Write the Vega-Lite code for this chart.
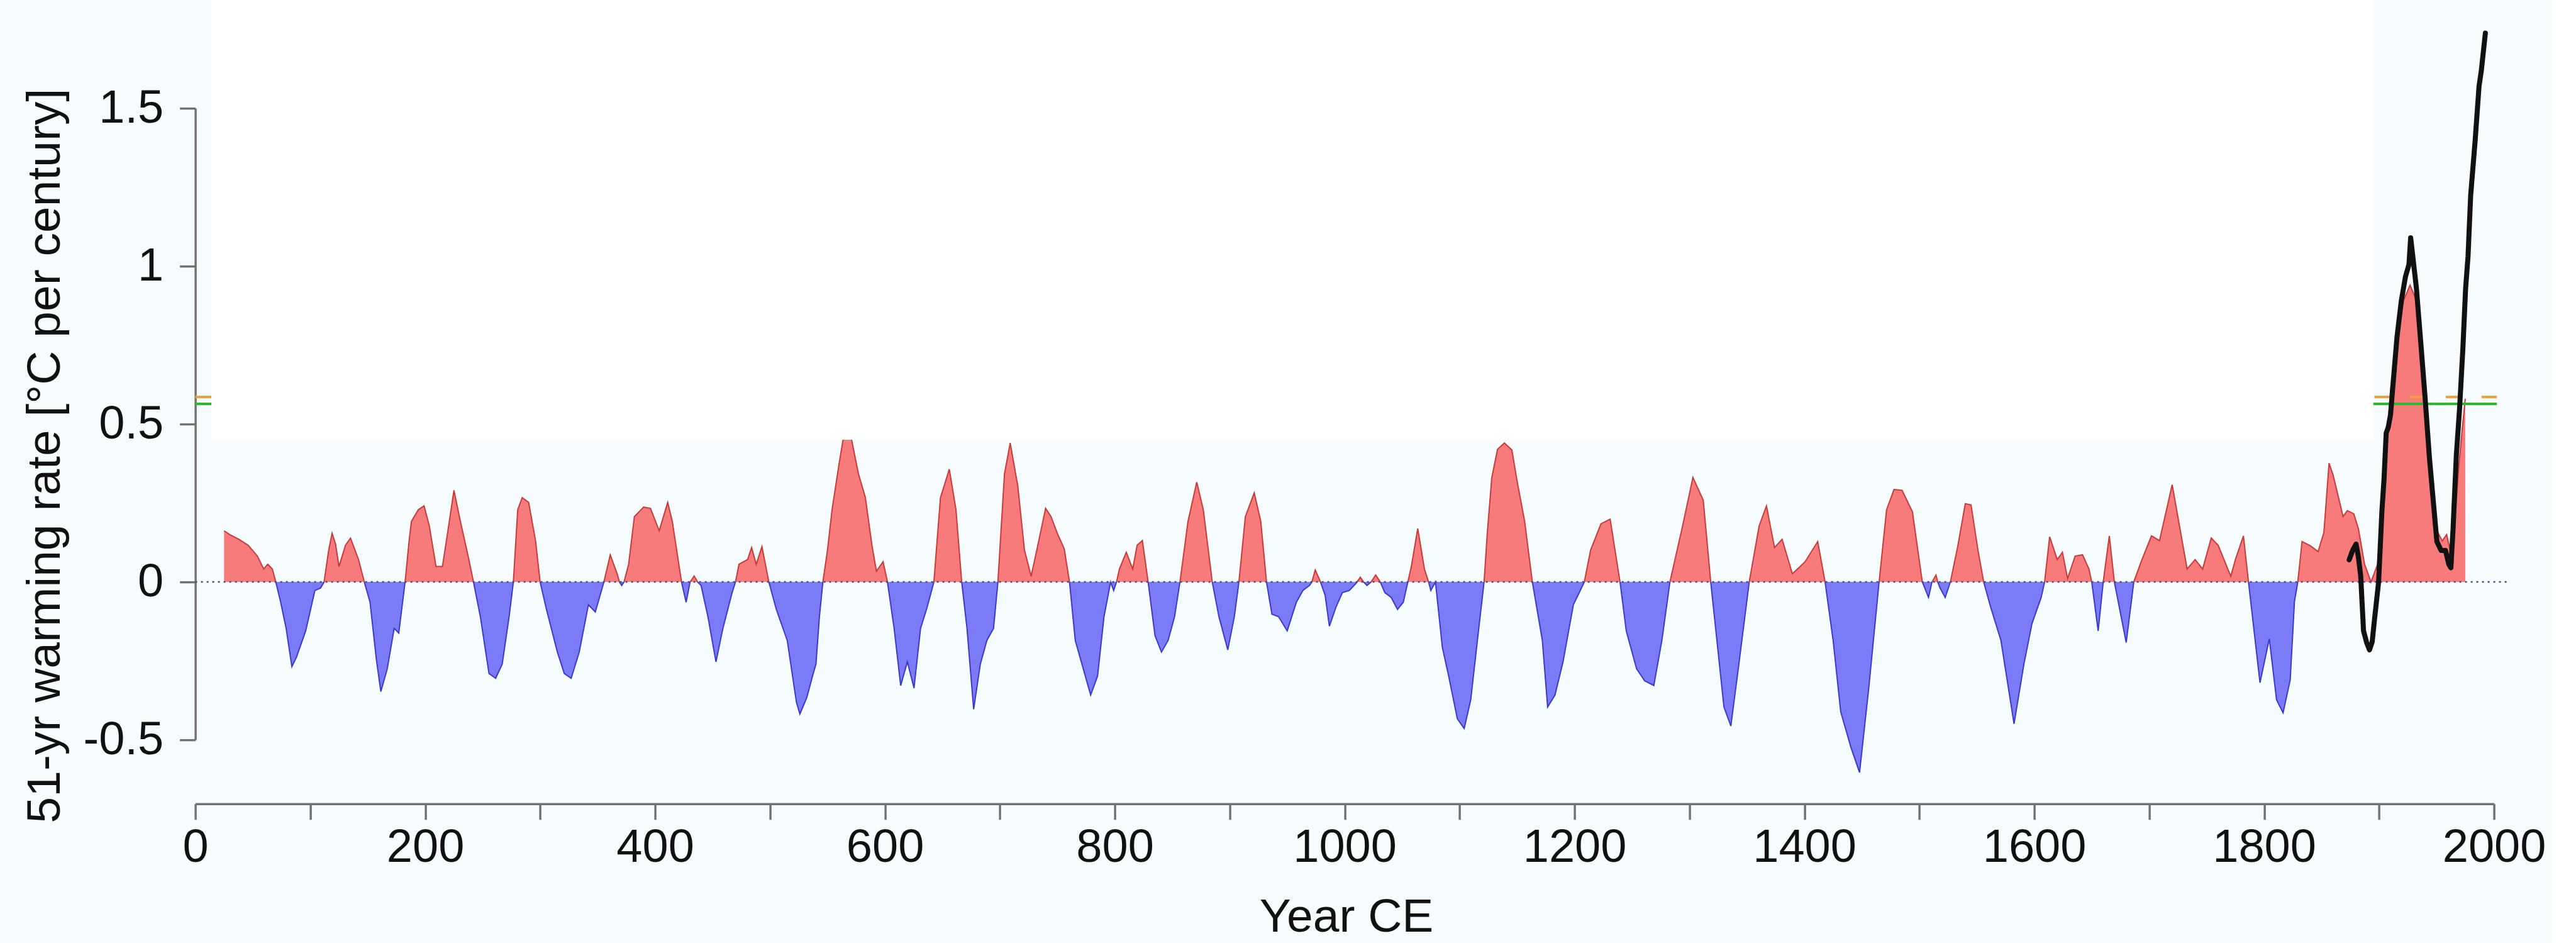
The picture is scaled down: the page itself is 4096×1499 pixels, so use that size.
{
 "$schema": "https://vega.github.io/schema/vega-lite/v6.json",
 "width": 3655, "height": 1004,
 "autosize": {"type": "none"},
 "padding": {"left": 310.6, "top": 172.1, "right": 130.4, "bottom": 322.9},
 "background": "#f6fbfd",
 "config": {"view": {"stroke": null}, "font": "Liberation Sans"},
 "datasets": {
  "rate": [
   {"yr":25,"v":0.162},{"yr":30,"v":0.15},{"yr":38,"v":0.135},{"yr":46,"v":0.116},{"yr":54,"v":0.082},{"yr":59.5,"v":0.041},{"yr":63,"v":0.056},{"yr":67,"v":0.041},{"yr":70,"v":0},
   {"yr":74,"v":-0.06},{"yr":79,"v":-0.147},{"yr":84,"v":-0.268},{"yr":88,"v":-0.238},{"yr":96,"v":-0.155},{"yr":104,"v":-0.027},{"yr":109,"v":-0.019},{"yr":112,"v":0},
   {"yr":116,"v":0.1},{"yr":119,"v":0.154},{"yr":122,"v":0.12},{"yr":125,"v":0.049},{"yr":130.6,"v":0.116},{"yr":135,"v":0.139},{"yr":142,"v":0.071},{"yr":147,"v":0},
   {"yr":152,"v":-0.064},{"yr":157.5,"v":-0.245},{"yr":161.4,"v":-0.347},{"yr":167,"v":-0.275},{"yr":173,"v":-0.147},{"yr":177,"v":-0.162},{"yr":182.5,"v":0},
   {"yr":186,"v":0.13},{"yr":188,"v":0.192},{"yr":194,"v":0.229},{"yr":199,"v":0.241},{"yr":203.6,"v":0.177},{"yr":209.4,"v":0.049},{"yr":215,"v":0.049},{"yr":218,"v":0.12},{"yr":221,"v":0.192},{"yr":225,"v":0.29},{"yr":230.6,"v":0.192},{"yr":238,"v":0.071},{"yr":242,"v":0},
   {"yr":248,"v":-0.11},{"yr":255.5,"v":-0.29},{"yr":261.3,"v":-0.305},{"yr":267,"v":-0.26},{"yr":273,"v":-0.11},{"yr":276.7,"v":0},
   {"yr":280.5,"v":0.229},{"yr":284.4,"v":0.267},{"yr":290,"v":0.252},{"yr":296,"v":0.131},{"yr":300,"v":0},
   {"yr":305.5,"v":-0.087},{"yr":315,"v":-0.222},{"yr":321,"v":-0.29},{"yr":327,"v":-0.305},{"yr":334,"v":-0.222},{"yr":342,"v":-0.072},{"yr":348,"v":-0.095},{"yr":355.5,"v":0},
   {"yr":361,"v":0.086},{"yr":367,"v":0.026},{"yr":369,"v":0},{"yr":371,"v":-0.011},{"yr":373,"v":0},{"yr":377,"v":0.056},{"yr":382,"v":0.207},{"yr":390,"v":0.237},{"yr":396,"v":0.233},{"yr":403.6,"v":0.162},{"yr":411,"v":0.252},{"yr":415,"v":0.192},{"yr":423,"v":0},
   {"yr":427,"v":-0.064},{"yr":430.5,"v":0},{"yr":434,"v":0.019},{"yr":437,"v":0},{"yr":440,"v":-0.011},{"yr":446,"v":-0.11},{"yr":453,"v":-0.253},{"yr":459,"v":-0.147},{"yr":467,"v":-0.034},{"yr":470,"v":0},
   {"yr":473,"v":0.056},{"yr":480.5,"v":0.071},{"yr":484,"v":0.109},{"yr":488,"v":0.056},{"yr":493,"v":0.112},{"yr":499,"v":0},
   {"yr":505.5,"v":-0.087},{"yr":515,"v":-0.185},{"yr":523,"v":-0.381},{"yr":526,"v":-0.418},{"yr":532,"v":-0.366},{"yr":537,"v":-0.298},{"yr":540,"v":-0.26},{"yr":543,"v":-0.11},{"yr":546,"v":0},
   {"yr":550,"v":0.1},{"yr":554,"v":0.229},{"yr":560,"v":0.372},{"yr":564,"v":0.46},{"yr":568,"v":0.48},{"yr":571,"v":0.45},{"yr":577,"v":0.342},{"yr":583,"v":0.267},{"yr":588.7,"v":0.116},{"yr":592.6,"v":0.034},{"yr":598.4,"v":0.064},{"yr":602.2,"v":0},
   {"yr":608,"v":-0.147},{"yr":613.7,"v":-0.328},{"yr":619.5,"v":-0.253},{"yr":625.3,"v":-0.336},{"yr":631,"v":-0.147},{"yr":636.8,"v":-0.079},{"yr":642.6,"v":0},
   {"yr":648.3,"v":0.267},{"yr":656,"v":0.357},{"yr":661.8,"v":0.229},{"yr":666.8,"v":0},
   {"yr":671.4,"v":-0.147},{"yr":677.2,"v":-0.403},{"yr":683,"v":-0.26},{"yr":688.7,"v":-0.185},{"yr":694.5,"v":-0.147},{"yr":698.3,"v":0},
   {"yr":704,"v":0.342},{"yr":709,"v":0.44},{"yr":715.6,"v":0.304},{"yr":721.4,"v":0.101},{"yr":727.2,"v":0.018},{"yr":733,"v":0.116},{"yr":739.8,"v":0.233},{"yr":744.5,"v":0.207},{"yr":750,"v":0.154},{"yr":756,"v":0.105},{"yr":760.6,"v":0},
   {"yr":765.6,"v":-0.185},{"yr":771.4,"v":-0.26},{"yr":779,"v":-0.358},{"yr":785,"v":-0.298},{"yr":790.6,"v":-0.11},{"yr":796.4,"v":0},{"yr":799,"v":-0.027},{"yr":801.5,"v":0},
   {"yr":804,"v":0.041},{"yr":810,"v":0.094},{"yr":815.6,"v":0.041},{"yr":819.4,"v":0.116},{"yr":824,"v":0.131},{"yr":829,"v":0},
   {"yr":835,"v":-0.17},{"yr":840.6,"v":-0.222},{"yr":846.4,"v":-0.185},{"yr":852,"v":-0.11},{"yr":856.7,"v":0},
   {"yr":863.7,"v":0.192},{"yr":871.3,"v":0.316},{"yr":877,"v":0.229},{"yr":884.8,"v":0},
   {"yr":890.6,"v":-0.11},{"yr":898.3,"v":-0.215},{"yr":904,"v":-0.11},{"yr":908,"v":0},
   {"yr":913.6,"v":0.207},{"yr":921.3,"v":0.282},{"yr":927,"v":0.192},{"yr":932,"v":0},
   {"yr":936.7,"v":-0.102},{"yr":942.5,"v":-0.11},{"yr":950,"v":-0.155},{"yr":958,"v":-0.064},{"yr":963.6,"v":-0.027},{"yr":969.4,"v":-0.011},{"yr":971.5,"v":0},{"yr":974.4,"v":0.038},{"yr":979,"v":0},
   {"yr":983,"v":-0.042},{"yr":986.7,"v":-0.14},{"yr":992.5,"v":-0.079},{"yr":998,"v":-0.034},{"yr":1004,"v":-0.027},{"yr":1010,"v":-0.004},{"yr":1013.6,"v":0.015},{"yr":1016.5,"v":0},{"yr":1019.4,"v":-0.011},{"yr":1023,"v":0},{"yr":1027,"v":0.022},{"yr":1031,"v":0},
   {"yr":1035,"v":-0.034},{"yr":1040.5,"v":-0.049},{"yr":1046,"v":-0.087},{"yr":1051,"v":-0.064},{"yr":1055,"v":0},
   {"yr":1058,"v":0.049},{"yr":1063.6,"v":0.169},{"yr":1069.4,"v":0.041},{"yr":1073,"v":0},{"yr":1075,"v":-0.027},{"yr":1079,"v":0},
   {"yr":1085,"v":-0.207},{"yr":1090.5,"v":-0.298},{"yr":1098,"v":-0.433},{"yr":1104,"v":-0.464},{"yr":1109.7,"v":-0.373},{"yr":1115.5,"v":-0.185},{"yr":1121.3,"v":0},
   {"yr":1124,"v":0.15},{"yr":1128,"v":0.33},{"yr":1133,"v":0.42},{"yr":1139,"v":0.44},{"yr":1145.5,"v":0.418},{"yr":1150,"v":0.32},{"yr":1156.6,"v":0.192},{"yr":1163.3,"v":0},
   {"yr":1172,"v":-0.185},{"yr":1176.6,"v":-0.396},{"yr":1183,"v":-0.358},{"yr":1190,"v":-0.253},{"yr":1199,"v":-0.072},{"yr":1205,"v":-0.027},{"yr":1208.5,"v":0},
   {"yr":1214,"v":0.101},{"yr":1223,"v":0.184},{"yr":1231,"v":0.199},{"yr":1236.5,"v":0.071},{"yr":1239.6,"v":0},
   {"yr":1245,"v":-0.155},{"yr":1254,"v":-0.275},{"yr":1261,"v":-0.313},{"yr":1269,"v":-0.328},{"yr":1276,"v":-0.185},{"yr":1283,"v":0},
   {"yr":1294,"v":0.177},{"yr":1303,"v":0.331},{"yr":1312,"v":0.259},{"yr":1318.5,"v":0},
   {"yr":1330,"v":-0.396},{"yr":1336,"v":-0.456},{"yr":1343,"v":-0.26},{"yr":1352,"v":0},
   {"yr":1360.6,"v":0.177},{"yr":1367,"v":0.241},{"yr":1374,"v":0.109},{"yr":1380.6,"v":0.135},{"yr":1389.5,"v":0.026},{"yr":1394,"v":0.041},{"yr":1400.6,"v":0.064},{"yr":1411.6,"v":0.128},{"yr":1418,"v":0},
   {"yr":1425,"v":-0.185},{"yr":1431.6,"v":-0.411},{"yr":1440.5,"v":-0.524},{"yr":1448,"v":-0.603},{"yr":1456,"v":-0.336},{"yr":1465,"v":0},
   {"yr":1471.5,"v":0.229},{"yr":1478,"v":0.293},{"yr":1485,"v":0.29},{"yr":1494,"v":0.222},{"yr":1502.6,"v":0},
   {"yr":1508,"v":-0.049},{"yr":1511,"v":0},{"yr":1514.5,"v":0.022},{"yr":1516,"v":0},{"yr":1518,"v":-0.019},{"yr":1522.5,"v":-0.049},{"yr":1527,"v":0},
   {"yr":1533.6,"v":0.116},{"yr":1540,"v":0.248},{"yr":1545,"v":0.244},{"yr":1551,"v":0.101},{"yr":1556,"v":0},
   {"yr":1562,"v":-0.079},{"yr":1571,"v":-0.185},{"yr":1582.4,"v":-0.449},{"yr":1591,"v":-0.26},{"yr":1598,"v":-0.132},{"yr":1606,"v":-0.049},{"yr":1609,"v":0},
   {"yr":1613.4,"v":0.143},{"yr":1620,"v":0.071},{"yr":1624.5,"v":0.094},{"yr":1629,"v":0.011},{"yr":1635.6,"v":0.082},{"yr":1642,"v":0.086},{"yr":1647.6,"v":0.041},{"yr":1650,"v":0},
   {"yr":1655.6,"v":-0.155},{"yr":1660,"v":0},{"yr":1665.3,"v":0.146},{"yr":1669.7,"v":0},{"yr":1680,"v":-0.192},{"yr":1686.6,"v":0},
   {"yr":1693,"v":0.064},{"yr":1702,"v":0.146},{"yr":1709,"v":0.131},{"yr":1720,"v":0.308},{"yr":1733,"v":0.041},{"yr":1740,"v":0.071},{"yr":1746.5,"v":0.041},{"yr":1754,"v":0.139},{"yr":1760,"v":0.116},{"yr":1771,"v":0.018},{"yr":1775,"v":0.071},{"yr":1782,"v":0.146},{"yr":1786.4,"v":0},
   {"yr":1796.4,"v":-0.319},{"yr":1804.5,"v":-0.18},{"yr":1810.8,"v":-0.373},{"yr":1816.5,"v":-0.414},{"yr":1822.7,"v":-0.31},{"yr":1826.4,"v":-0.062},{"yr":1829.3,"v":0},
   {"yr":1833,"v":0.128},{"yr":1840.5,"v":0.114},{"yr":1847,"v":0.096},{"yr":1852,"v":0.157},{"yr":1856.5,"v":0.376},{"yr":1860,"v":0.339},{"yr":1865,"v":0.263},{"yr":1868.7,"v":0.207},{"yr":1872.4,"v":0.226},{"yr":1878,"v":0.216},{"yr":1882,"v":0.169},{"yr":1887.4,"v":0.056},{"yr":1893,"v":0},
   {"yr":1898.7,"v":0.056},{"yr":1904.3,"v":0.319},{"yr":1910,"v":0.605},{"yr":1915.6,"v":0.775},{"yr":1921.2,"v":0.891},{"yr":1927,"v":0.94},{"yr":1932.5,"v":0.891},{"yr":1938,"v":0.665},{"yr":1943.8,"v":0.399},{"yr":1949.4,"v":0.169},{"yr":1955,"v":0.13},{"yr":1958.8,"v":0.15},{"yr":1962.5,"v":0.09},{"yr":1966,"v":0.2},{"yr":1969,"v":0.35},{"yr":1972,"v":0.47},{"yr":1975,"v":0.58}
  ],
  "inst": [
   {"yr":1874,"v":0.07},{"yr":1877,"v":0.1},{"yr":1880,"v":0.12},{"yr":1882,"v":0.08},{"yr":1884,"v":0.02},{"yr":1886.5,"v":-0.155},{"yr":1889.3,"v":-0.193},{"yr":1891.7,"v":-0.215},{"yr":1894,"v":-0.19},{"yr":1896,"v":-0.12},{"yr":1899.6,"v":0},
   {"yr":1902.5,"v":0.226},{"yr":1904.3,"v":0.324},{"yr":1906.2,"v":0.471},{"yr":1908,"v":0.49},{"yr":1910,"v":0.53},{"yr":1912,"v":0.62},{"yr":1915.6,"v":0.775},{"yr":1919.4,"v":0.891},{"yr":1923,"v":0.967},{"yr":1926,"v":1.005},{"yr":1927.5,"v":1.09},{"yr":1929.7,"v":1.02},{"yr":1932.5,"v":0.93},{"yr":1936.3,"v":0.758},{"yr":1940,"v":0.586},{"yr":1943.8,"v":0.395},{"yr":1947.5,"v":0.243},{"yr":1950.3,"v":0.128},{"yr":1954,"v":0.1},{"yr":1957.8,"v":0.1},{"yr":1960.7,"v":0.056},{"yr":1962.5,"v":0.045},
   {"yr":1964.4,"v":0.169},{"yr":1967.2,"v":0.399},{"yr":1970,"v":0.546},{"yr":1972.9,"v":0.737},{"yr":1975.3,"v":0.929},{"yr":1977.4,"v":1.03},{"yr":1979.7,"v":1.224},{"yr":1983.5,"v":1.393},{"yr":1987,"v":1.57},{"yr":1989,"v":1.62},{"yr":1992.5,"v":1.738}
  ],
  "zero": [{"yr": 0, "yr2": 2013, "v": 0}],
  "green": [{"yr": 0, "yr2": 2002.5, "v": 0.564}],
  "orange": [{"yr": 0, "yr2": 2002.5, "v": 0.586}],
  "mask": [{"yr": 14, "yr2": 1895, "v": 0.4506, "v2": 2.2}],
  "strip": [{"yr": 2050, "yr2": 2120, "v": -1.5, "v2": 2.2}]
 },
 "encoding": {
  "x": {"field": "yr", "type": "quantitative", "scale": {"domain": [0, 2000], "nice": false, "zero": false}, "title": "Year CE",
   "axis": {"values": [0,100,200,300,400,500,600,700,800,900,1000,1100,1200,1300,1400,1500,1600,1700,1800,1900,2000],
    "labelExpr": "datum.value % 200 == 0 ? '' + datum.value : ''", "labelFlush": false, "labelOverlap": false,
    "offset": 101.6, "grid": false, "domainColor": "#707070", "domainWidth": 3.4, "tickColor": "#707070", "tickWidth": 3.4, "tickSize": 25,
    "labelFont": "Liberation Sans", "labelFontSize": 74, "labelColor": "#111111", "labelPadding": 9,
    "titleFont": "Liberation Sans", "titleFontSize": 75, "titleFontWeight": "normal", "titleColor": "#111111",
    "titleX": 1830, "titleY": 180, "titleBaseline": "middle", "titleAlign": "center"}},
  "y": {"field": "v", "type": "quantitative", "scale": {"domain": [-0.5, 1.5], "nice": false, "zero": false}, "title": "51-yr warming rate [°C per century]",
   "axis": {"values": [-0.5, 0, 0.5, 1, 1.5], "labelExpr": "'' + datum.value", "labelFlush": false, "labelOverlap": false,
    "grid": false, "domainColor": "#707070", "domainWidth": 3.4, "tickColor": "#707070", "tickWidth": 3.4, "tickSize": 25,
    "labelFont": "Liberation Sans", "labelFontSize": 74, "labelColor": "#111111", "labelPadding": 26,
    "titleFont": "Liberation Sans", "titleFontSize": 75, "titleFontWeight": "normal", "titleColor": "#111111",
    "titleX": -239.6, "titleY": 552, "titleAngle": 270, "titleBaseline": "middle", "titleAlign": "center"}}
 },
 "layer": [
  {
   "data": {"name": "rate"},
   "mark": {"type": "area", "fill": {"gradient": "linear", "x1": 0, "y1": 0, "x2": 0, "y2": 1, "stops": [{"offset": 0, "color": "#f77b7b"}, {"offset": 0.6092, "color": "#f77b7b"}, {"offset": 0.6092, "color": "#7b7bf7"}, {"offset": 1, "color": "#7b7bf7"}]}},
   "encoding": {"y2": {"datum": 0}}
  },
  {
   "data": {"name": "strip"},
   "mark": {"type": "rect", "fill": "#ffffff"},
   "encoding": {"x2": {"field": "yr2"}, "y2": {"field": "v2"}}
  },
  {
   "data": {"name": "rate"},
   "mark": {"type": "line", "strokeWidth": 2, "stroke": {"gradient": "linear", "x1": 0, "y1": 0, "x2": 0, "y2": 1, "stops": [{"offset": 0, "color": "#c83a3a"}, {"offset": 0.6092, "color": "#c83a3a"}, {"offset": 0.6092, "color": "#3a3ac8"}, {"offset": 1, "color": "#3a3ac8"}]}},
   "encoding": {}
  },
  {
   "data": {"name": "zero"},
   "mark": {"type": "rule", "color": "#4a4a7a", "strokeWidth": 2.5, "strokeDash": [3, 6]},
   "encoding": {"x2": {"field": "yr2"}}
  },
  {
   "data": {"name": "green"},
   "mark": {"type": "rule", "color": "#2dbb2d", "strokeWidth": 4},
   "encoding": {"x2": {"field": "yr2"}}
  },
  {
   "data": {"name": "orange"},
   "mark": {"type": "rule", "color": "#f0a040", "strokeWidth": 4, "strokeDash": [25.4, 31.4]},
   "encoding": {"x2": {"field": "yr2"}}
  },
  {
   "data": {"name": "mask"},
   "mark": {"type": "rect", "fill": "#ffffff"},
   "encoding": {"x2": {"field": "yr2"}, "y2": {"field": "v2"}}
  },
  {
   "data": {"name": "inst"},
   "mark": {"type": "line", "color": "#111111", "strokeWidth": 8, "strokeJoin": "round", "strokeCap": "round"},
   "encoding": {}
  }
 ]
}
